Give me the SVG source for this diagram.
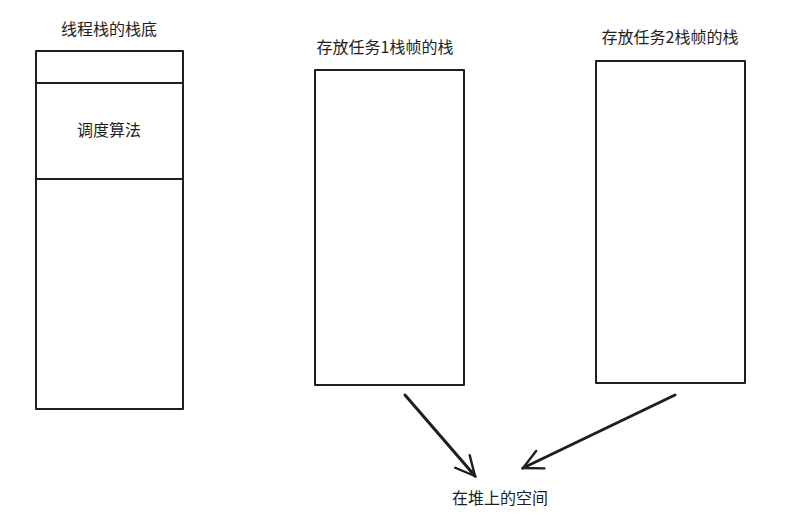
<svg xmlns="http://www.w3.org/2000/svg" width="804" height="531" viewBox="0 0 804 531">
<defs>
<style>
.box{fill:none;stroke:#1e1e1e;stroke-width:2;stroke-linejoin:round}
.ln{fill:none;stroke:#1e1e1e;stroke-width:2;stroke-linecap:round}
.arr{fill:none;stroke:#1e1e1e;stroke-width:3;stroke-linecap:round}
text{font-family:"Noto Sans CJK SC","Noto Sans",sans-serif;font-size:16px;fill:#1e1e1e;text-anchor:middle}
</style>
<marker id="ah" viewBox="0 0 20 20" refX="18" refY="10" markerWidth="8" markerHeight="8" markerUnits="strokeWidth" orient="auto">
<path d="M2,2 L18,10 L2,18" fill="none" stroke="#1e1e1e" stroke-width="2" stroke-linecap="round"/>
</marker>
</defs>
<rect width="804" height="531" fill="#ffffff"/>
<g id="thread-stack">
<rect class="box" x="36" y="51" width="147" height="358"/>
<line class="ln" x1="36" y1="83" x2="183" y2="83"/>
<line class="ln" x1="36" y1="179" x2="183" y2="179"/>
<text x="109" y="35">线程栈的栈底</text>
<text x="109" y="136">调度算法</text>
</g>
<g id="task1-stack">
<rect class="box" x="315" y="70" width="149" height="315"/>
<text x="385" y="53">存放任务1栈帧的栈</text>
</g>
<g id="task2-stack">
<rect class="box" x="596" y="61" width="149" height="322"/>
<text x="670" y="43">存放任务2栈帧的栈</text>
</g>
<g id="heap">
<text x="500" y="504">在堆上的空间</text>
</g>
<g id="connectors">
<line class="arr" x1="405" y1="395" x2="475" y2="476" marker-end="url(#ah)"/>
<line class="arr" x1="675" y1="395" x2="523" y2="468" marker-end="url(#ah)"/>
</g>
</svg>
